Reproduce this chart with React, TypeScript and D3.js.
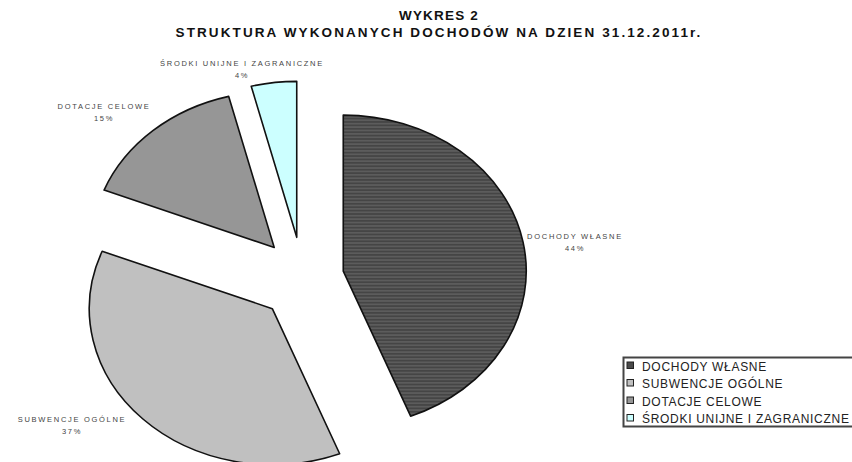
import React from 'react';
import * as d3 from 'd3';

// categories and shares (%)
const categories = ['DOCHODY WŁASNE', 'SUBWENCJE OGÓLNE', 'DOTACJE CELOWE', 'ŚRODKI UNIJNE I ZAGRANICZNE'];
const shares = [44, 37, 15, 4];
const colors = ['url(#stripes)', '#c0c0c0', '#969696', '#ccffff'];
const legendColors = ['#4a4a4a', '#c0c0c0', '#969696', '#ccffff'];
const titleLines = ['WYKRES 2', 'STRUKTURA WYKONANYCH DOCHODÓW NA DZIEN 31.12.2011r.'];

// label anchor points, one per category
const labelPos: [number, number][] = [
  [575, 239],
  [72, 422],
  [104, 109],
  [242, 66],
];

const W = 852;
const H = 462;
const cx = 302;
const cy = 279;
const rx = 183;
const ry = 156;
const explode = 42;

const App = () => {
  const pie = d3.pie<number>().sort(null).value(d => d);
  const arcs = pie(shares);
  const arc = d3.arc<d3.PieArcDatum<number>>().innerRadius(0).outerRadius(rx);
  const k = ry / rx;

  return (
    <svg width={W} height={H} style={{ position: 'absolute', left: 0, top: 0, background: '#fff' }}
      fontFamily="'Liberation Sans', Arial, sans-serif">
      <defs>
        <pattern id="stripes" width="4" height="4" patternUnits="userSpaceOnUse">
          <rect width="4" height="4" fill="#454545" />
          <rect y="2" width="4" height="2" fill="#5c5c5c" />
        </pattern>
      </defs>
      {titleLines.map((t, i) => (
        <text key={i} x={439} y={20 + i * 17} textAnchor="middle" fontWeight="bold" fontSize={13.5}
          letterSpacing={i === 0 ? 1.2 : 2.1} fill="#111">
          {t}
        </text>
      ))}
      {arcs.map((a, i) => {
        const mid = (a.startAngle + a.endAngle) / 2;
        const ox = cx + explode * Math.sin(mid);
        const oy = cy - explode * Math.cos(mid);
        return (
          <path key={i} d={arc(a) || ''} transform={`translate(${ox},${oy}) scale(1,${k})`}
            fill={colors[i]} stroke="#111" strokeWidth={1.6} vectorEffect="non-scaling-stroke"
            strokeLinejoin="round" />
        );
      })}
      {categories.map((c, i) => (
        <g key={i} fontSize={7.5} fill="#444" textAnchor="middle" letterSpacing={1.7}>
          <text x={labelPos[i][0]} y={labelPos[i][1]}>{c}</text>
          <text x={labelPos[i][0]} y={labelPos[i][1] + 12}>{shares[i]}%</text>
        </g>
      ))}
      <g transform="translate(623,357)">
        <rect x={0.5} y={0.5} width={240} height={69} fill="#fff" stroke="#444" strokeWidth={2} />
        {categories.map((c, i) => (
          <g key={i} transform={`translate(0,${9 + i * 17.5})`}>
            <rect x={4} y={-4} width={6.5} height={6.5} fill={legendColors[i]} stroke="#222" strokeWidth={1} />
            <text x={19} y={4.5} fontSize={12} letterSpacing={0.7} fill="#222">{c}</text>
          </g>
        ))}
      </g>
    </svg>
  );
};

export default App;
